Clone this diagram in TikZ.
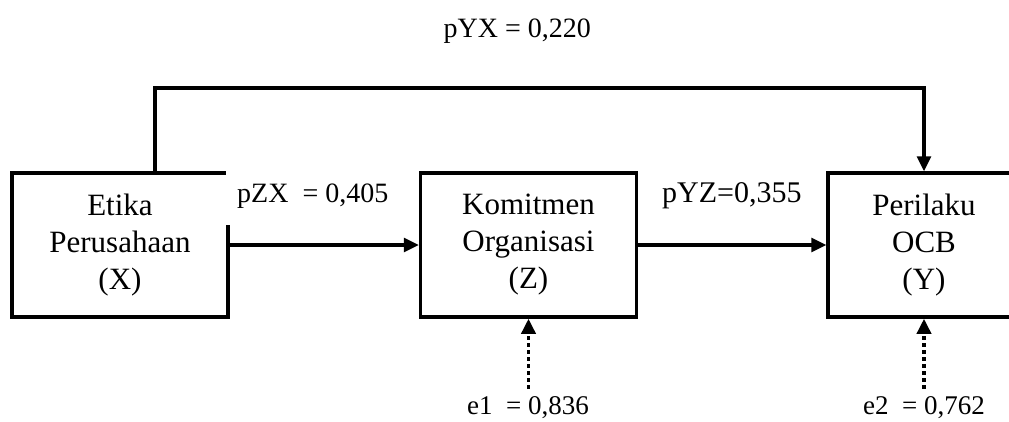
\documentclass[tikz,border=0pt]{standalone}
\usepackage{fontspec}
\setmainfont{Liberation Serif}
\usetikzlibrary{arrows.meta}
\begin{document}
\begin{tikzpicture}[x=1pt,y=-1pt,
  box/.style={draw, line width=3.5pt, minimum width=216pt, minimum height=144pt,
    align=center, font=\fontsize{31}{37}\selectfont, inner sep=0pt},
  lbl/.style={font=\fontsize{28}{32}\selectfont, inner sep=0pt},
  elbl/.style={font=\fontsize{27}{32}\selectfont, inner xsep=0pt, inner ysep=7pt},
  conn/.style={line width=3.2pt, -{Triangle[length=15pt,width=14pt]}},
  dotconn/.style={line width=3.5pt, dash pattern=on 4pt off 3pt,
    -{Triangle[length=15pt,width=14pt]}}]
\useasboundingbox (0,0) rectangle (1009,421);
\fill[white] (0,0) rectangle (1009,421);
% boxes
\node[box] (X) at (120,245) {Etika\\Perusahaan\\(X)};
\node[box] (Z) at (528.5,245) {Komitmen\\Organisasi\\(Z)};
\node[box, minimum width=192pt] (Y) at (924,245) {Perilaku\\OCB\\(Y)};
% connectors
\draw[conn] (X.east) -- (Z.west);
\draw[conn] (Z.east) -- (Y.west);
\coordinate (t) at (155,88);
\draw[conn] (X.north -| t) -- (t) -| (Y.north);
% labels
\node[lbl, anchor=base east] (pyx) at (591,37) {pYX = 0,220};
\node[lbl, fill=white, anchor=base west, inner xsep=11pt, inner ysep=17pt] (pzx) at (226,202) {pZX\ \ = 0,405};
\node[lbl, font=\fontsize{30}{34}\selectfont, anchor=base west] (pyz) at (662,202) {pYZ=0,355};
\node[elbl, anchor=base] (e1) at (528,414) {e1\ \ = 0,836};
\node[elbl, anchor=base] (e2) at (924,414) {e2\ \ = 0,762};
\draw[dotconn] (Z.south |- e1.north) -- (Z.south);
\draw[dotconn] (Y.south |- e2.north) -- (Y.south);
\end{tikzpicture}
\end{document}
